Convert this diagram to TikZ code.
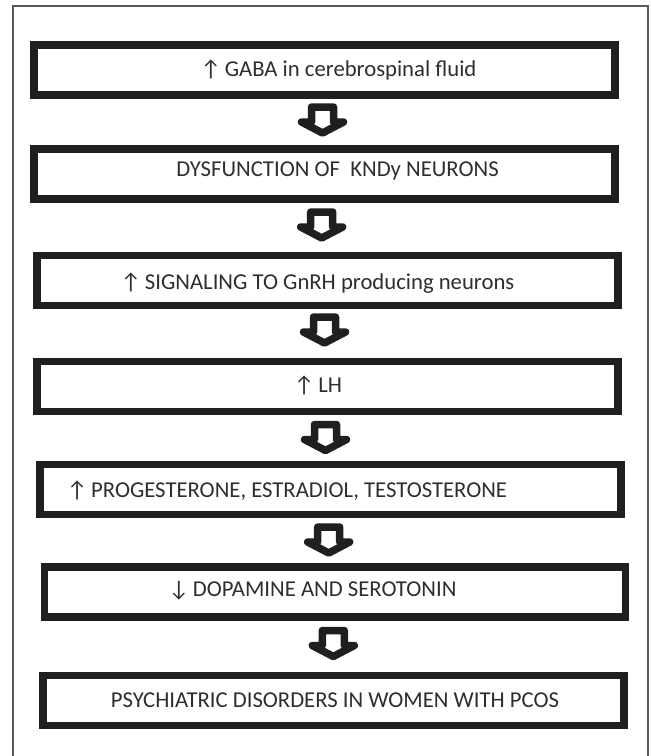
\documentclass[tikz,border=0pt]{standalone}
\usepackage{fontspec}
\setmainfont{Carlito}
\usepackage{tikz}

\begin{document}
\begin{tikzpicture}[x=1pt, y=-1pt,
    stepbox/.style ={rectangle, draw=black!88, line width=7.5pt, inner sep=0pt, minimum height=50pt},
    boxtext/.style ={text=black!82, font=\fontsize{22.7}{24}\selectfont, inner sep=0pt},
    blockarrow/.pic ={\draw[black!88, line width=7.5pt, line join=round]
        (-11,0) -- (11,0) -- (11,15) -- (21,15) -- (0,26) -- (-21,15) -- (-11,15) -- cycle;}]
   \useasboundingbox (0,0) rectangle (651,756);
   \draw[black!65, line width=1.2pt] (13,760) |- (648,6) -- (648,760);

   \node[stepbox, minimum width=581pt] (B1) at (324.5,69.75) {};
   \node[stepbox, minimum width=581pt] (B2) at (324.5,174) {};
   \node[stepbox, minimum width=581pt] (B3) at (327.5,280.5) {};
   \node[stepbox, minimum width=581pt] (B4) at (327.5,386.5) {};
   \node[stepbox, minimum width=581pt] (B5) at (330.3,489.5) {};
   \node[stepbox, minimum width=581pt] (B6) at (335.2,592.2) {};
   \node[stepbox, minimum width=581pt] (B7) at (333.5,700.5) {};

   \node[boxtext] (T1) at (338.5,70) {↑\,GABA in cerebrospinal fluid};
   \node[boxtext] (T2) at (337.5,171) {DYSFUNCTION OF~~KNDy NEURONS};
   \node[boxtext] (T3) at (317.5,283) {↑\,SIGNALING TO GnRH producing neurons};
   \node[boxtext] (T4) at (318,385) {↑\,LH};
   \node[boxtext] (T5) at (287,491) {↑\,PROGESTERONE, ESTRADIOL, TESTOSTERONE};
   \node[boxtext] (T6) at (312.5,591) {↓\,DOPAMINE AND SEROTONIN};
   \node[boxtext] (T7) at (335,700) {PSYCHIATRIC DISORDERS IN WOMEN WITH PCOS};

   \pic at (322.5,107) {blockarrow};
   \pic at (321.7,212) {blockarrow};
   \pic at (324.5,317) {blockarrow};
   \pic at (325.5,424.5) {blockarrow};
   \pic at (328.7,527) {blockarrow};
   \pic at (333.3,630.5) {blockarrow};
 \end{tikzpicture}
\end{document}
